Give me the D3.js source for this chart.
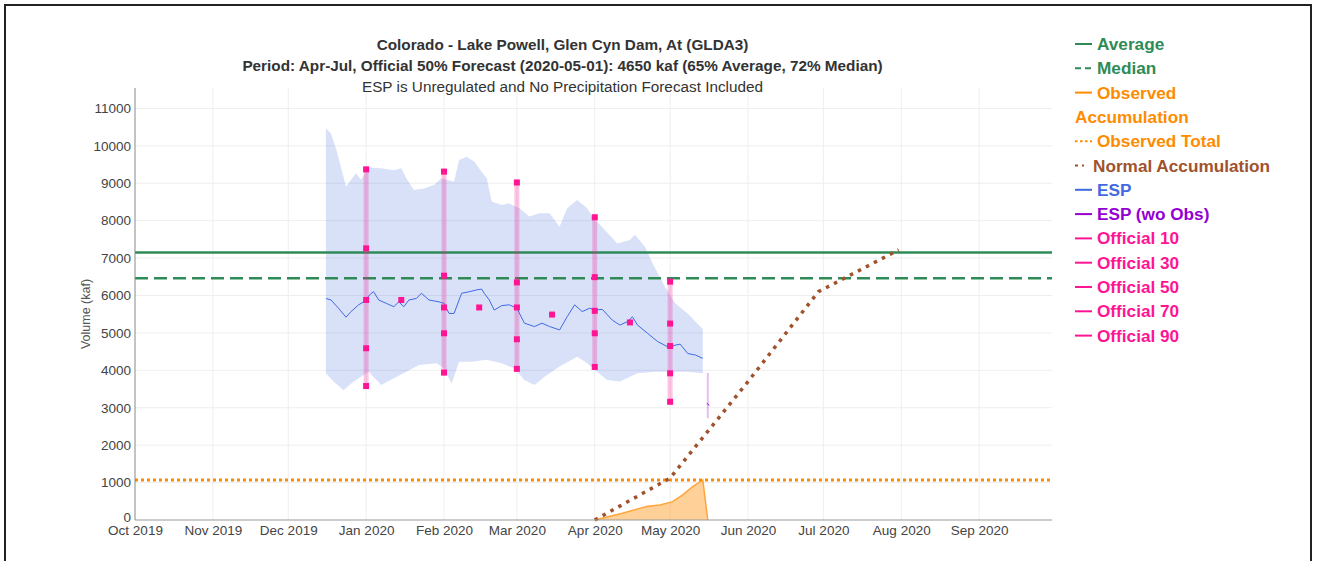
<!DOCTYPE html>
<html><head><meta charset="utf-8">
<script src="https://cdn.jsdelivr.net/npm/d3@7"></script>
<style>body{margin:0;background:#fff;} svg{display:block;font-family:"Liberation Sans",Arial,sans-serif;}</style>
</head><body><svg id="c" width="1317" height="561"></svg>
<script>
// ---------- data ----------
const titleLines = [
  "Colorado - Lake Powell, Glen Cyn Dam, At (GLDA3)",
  "Period: Apr-Jul, Official 50% Forecast (2020-05-01): 4650 kaf (65% Average, 72% Median)",
  "ESP is Unregulated and No Precipitation Forecast Included"
];
const yTicks = [0,1000,2000,3000,4000,5000,6000,7000,8000,9000,10000,11000];
const monthTicks = ["2019-10-01","2019-11-01","2019-12-01","2020-01-01","2020-02-01","2020-03-01",
  "2020-04-01","2020-05-01","2020-06-01","2020-07-01","2020-08-01","2020-09-01"];
const averageValue = 7150;
const medianValue = 6460;
const observedTotal = 1070;

const espUpper = [
  ["2019-12-16",10470],["2019-12-18",10330],["2019-12-20",9930],["2019-12-24",8910],["2019-12-26",9090],
  ["2019-12-28",9270],["2019-12-30",9090],["2020-01-02",9420],["2020-01-07",9400],["2020-01-12",9350],
  ["2020-01-15",9400],["2020-01-17",9130],["2020-01-20",8820],["2020-01-24",8860],["2020-01-28",8950],
  ["2020-01-31",9130],["2020-02-05",9040],["2020-02-07",9620],["2020-02-10",9710],["2020-02-13",9580],
  ["2020-02-16",9310],["2020-02-18",9130],["2020-02-20",8510],["2020-02-24",8420],["2020-02-27",8460],
  ["2020-03-02",8330],["2020-03-06",8110],["2020-03-10",8200],["2020-03-14",8200],["2020-03-18",7840],
  ["2020-03-21",8330],["2020-03-25",8550],["2020-03-29",8330],["2020-03-31",8110],["2020-04-05",7750],
  ["2020-04-10",7390],["2020-04-15",7480],["2020-04-17",7620],["2020-04-21",7300],["2020-04-24",6860],
  ["2020-04-29",6230],["2020-05-03",5790],["2020-05-08",5520],["2020-05-14",5100]
];
const espLower = [
  ["2019-12-16",3920],["2019-12-19",3700],["2019-12-23",3470],["2019-12-27",3700],["2020-01-02",3960],
  ["2020-01-07",3610],["2020-01-12",3790],["2020-01-17",3960],["2020-01-22",4140],["2020-01-29",4190],
  ["2020-02-01",4050],["2020-02-04",3650],["2020-02-07",4230],["2020-02-12",4230],["2020-02-18",4280],
  ["2020-02-24",4190],["2020-02-29",4050],["2020-03-04",3740],["2020-03-08",3610],["2020-03-12",3830],
  ["2020-03-18",4100],["2020-03-25",4360],["2020-03-29",4190],["2020-04-01",4010],["2020-04-06",3740],
  ["2020-04-11",3700],["2020-04-18",3920],["2020-04-25",3960],["2020-05-01",3960],["2020-05-08",3960],
  ["2020-05-14",3920]
];
const espMedian = [
  ["2019-12-16",5920],["2019-12-18",5880],["2019-12-21",5660],["2019-12-24",5420],["2019-12-26",5570],
  ["2019-12-29",5750],["2019-12-31",5830],["2020-01-03",6060],["2020-01-04",6100],["2020-01-06",5880],
  ["2020-01-09",5790],["2020-01-12",5700],["2020-01-14",5830],["2020-01-16",5700],["2020-01-18",5880],
  ["2020-01-21",5920],["2020-01-23",6060],["2020-01-26",5880],["2020-01-30",5830],["2020-02-01",5790],
  ["2020-02-03",5520],["2020-02-05",5520],["2020-02-08",6060],["2020-02-11",6100],["2020-02-14",6150],
  ["2020-02-16",6170],["2020-02-17",6060],["2020-02-19",5880],["2020-02-21",5610],["2020-02-24",5730],
  ["2020-02-27",5750],["2020-03-01",5660],["2020-03-04",5260],["2020-03-08",5170],["2020-03-11",5260],
  ["2020-03-14",5170],["2020-03-18",5080],["2020-03-21",5430],["2020-03-24",5750],["2020-03-27",5570],
  ["2020-03-30",5660],["2020-04-01",5610],["2020-04-04",5630],["2020-04-08",5340],["2020-04-11",5210],
  ["2020-04-14",5300],["2020-04-16",5430],["2020-04-18",5210],["2020-04-22",4990],["2020-04-26",4770],
  ["2020-04-30",4630],["2020-05-05",4700],["2020-05-08",4450],["2020-05-11",4410],["2020-05-14",4320]
];
const espWoObsDate = "2020-05-16";
const espWoObsRange = [2720, 3930];
const espWoObsMedian = 3090;

const officialDates = ["2020-01-01","2020-02-01","2020-03-01","2020-04-01","2020-05-01"];
const official10 = [9370, 9310, 9020, 8090, 6370];
const official30 = [7260, 6530, 6350, 6490, 5250];
const official50 = [5880, 5680, 5680, 5590, 4650];
const official70 = [4590, 4990, 4830, 4990, 3920];
const official90 = [3580, 3940, 4040, 4090, 3160];
const midMonthDates = ["2020-01-15","2020-02-15","2020-03-15","2020-04-15"];
const midMonth50 = [5880, 5680, 5490, 5280];

const observedAccum = [
  ["2020-04-01",0],["2020-04-12",180],["2020-04-22",370],["2020-04-27",400],["2020-05-02",490],
  ["2020-05-06",670],["2020-05-10",890],["2020-05-14",1070],["2020-05-16",0]
];
const normalAccum = [
  ["2020-04-01",0],["2020-05-01",1120],["2020-06-01",3700],["2020-06-29",6100],["2020-07-31",7220]
];

const legendItems = [
  {label:"Average", color:"#2e8b57", dash:null},
  {label:"Median", color:"#2e8b57", dash:"6,4"},
  {label:"Observed", label2:"Accumulation", color:"#ff8c00", dash:null},
  {label:"Observed Total", color:"#ff8c00", dash:"2.5,2.5"},
  {label:"Normal Accumulation", color:"#a0522d", dash:"3,4", short:true},
  {label:"ESP", color:"#4169e1", dash:null},
  {label:"ESP (wo Obs)", color:"#9400d3", dash:null},
  {label:"Official 10", color:"#ff1493", dash:null},
  {label:"Official 30", color:"#ff1493", dash:null},
  {label:"Official 50", color:"#ff1493", dash:null},
  {label:"Official 70", color:"#ff1493", dash:null},
  {label:"Official 90", color:"#ff1493", dash:null}
];

// ---------- chart ----------
const parse = d3.utcParse("%Y-%m-%d");
const svg = d3.select("#c");
const x = d3.scaleUtc().domain([parse("2019-10-01"), parse("2020-09-30")]).range([135, 1052]);
const y = d3.scaleLinear().domain([0, 11545]).range([520, 88]);

// frame
svg.append("rect").attr("x",5).attr("y",5).attr("width",1306).attr("height",640)
  .attr("fill","none").attr("stroke","#222").attr("stroke-width",2);

// gridlines
svg.append("g").selectAll("line").data(yTicks.filter(d=>d>0)).join("line")
  .attr("x1",135).attr("x2",1052).attr("y1",d=>y(d)).attr("y2",d=>y(d))
  .attr("stroke","#eeeeee").attr("stroke-width",1);
svg.append("g").selectAll("line").data(monthTicks.slice(1)).join("line")
  .attr("x1",d=>x(parse(d))).attr("x2",d=>x(parse(d))).attr("y1",88).attr("y2",520)
  .attr("stroke","#eeeeee").attr("stroke-width",1);

// ESP band
const bandData = espUpper.map(d=>({t:parse(d[0]),v:d[1]}));
const lowData = espLower.map(d=>({t:parse(d[0]),v:d[1]}));
const bandPts = bandData.map(d=>[x(d.t),y(d.v)]).concat(lowData.slice().reverse().map(d=>[x(d.t),y(d.v)]));
svg.append("path").attr("d", d3.line()(bandPts)+"Z")
  .attr("fill","rgba(65,105,225,0.2)").attr("stroke","none");

// average / median
svg.append("line").attr("x1",135).attr("x2",1052).attr("y1",y(averageValue)).attr("y2",y(averageValue))
  .attr("stroke","#2e8b57").attr("stroke-width",2.5);
svg.append("line").attr("x1",135).attr("x2",1052).attr("y1",y(medianValue)).attr("y2",y(medianValue))
  .attr("stroke","#2e8b57").attr("stroke-width",2.5).attr("stroke-dasharray","13,6");

// observed accumulation area
const obs = observedAccum.map(d=>({t:parse(d[0]),v:d[1]}));
svg.append("path").datum(obs)
  .attr("d", d3.area().x(d=>x(d.t)).y0(y(0)).y1(d=>y(d.v)))
  .attr("fill","rgba(255,140,0,0.4)").attr("stroke","none");
svg.append("path").datum(obs)
  .attr("d", d3.line().x(d=>x(d.t)).y(d=>y(d.v)))
  .attr("fill","none").attr("stroke","#ffa53a").attr("stroke-width",1.5);

// observed total
svg.append("line").attr("x1",135).attr("x2",1052).attr("y1",y(observedTotal)).attr("y2",y(observedTotal))
  .attr("stroke","#ff8c00").attr("stroke-width",3).attr("stroke-dasharray","3,3");

// official bars
const offs = officialDates.map((d,i)=>({t:parse(d), v:[official10[i],official30[i],official50[i],official70[i],official90[i]]}));
svg.append("g").selectAll("rect").data(offs).join("rect")
  .attr("x",d=>x(d.t)-2.5).attr("width",5)
  .attr("y",d=>y(d.v[0])-3).attr("height",d=>y(d.v[4])-y(d.v[0])+6)
  .attr("fill","rgba(255,20,147,0.25)");

// ESP median line
svg.append("path").datum(espMedian.map(d=>({t:parse(d[0]),v:d[1]})))
  .attr("d", d3.line().x(d=>x(d.t)).y(d=>y(d.v)))
  .attr("fill","none").attr("stroke","#4169e1").attr("stroke-width",1);

// official squares
const sq = [];
offs.forEach(o=>o.v.forEach(v=>sq.push({t:o.t,v})));
midMonthDates.forEach((d,i)=>sq.push({t:parse(d),v:midMonth50[i]}));
svg.append("g").selectAll("rect").data(sq).join("rect")
  .attr("x",d=>x(d.t)-3).attr("y",d=>y(d.v)-3).attr("width",6).attr("height",6)
  .attr("fill","#ff1493");

// ESP wo Obs
const tw = parse(espWoObsDate);
svg.append("line").attr("x1",x(tw)).attr("x2",x(tw)).attr("y1",y(espWoObsRange[1])).attr("y2",y(espWoObsRange[0]))
  .attr("stroke","rgba(148,0,211,0.25)").attr("stroke-width",2);
svg.append("line").attr("x1",x(tw)-1).attr("x2",x(tw)+1.5).attr("y1",y(espWoObsMedian)-1).attr("y2",y(espWoObsMedian)+1)
  .attr("stroke","#9400d3").attr("stroke-width",1);

// normal accumulation
svg.append("path").datum(normalAccum.map(d=>({t:parse(d[0]),v:d[1]})))
  .attr("d", d3.line().x(d=>x(d.t)).y(d=>y(d.v)))
  .attr("fill","none").attr("stroke","#a0522d").attr("stroke-width",3.5).attr("stroke-dasharray","3.5,5.5");

// axes
svg.append("line").attr("x1",135).attr("x2",135).attr("y1",88).attr("y2",520).attr("stroke","#888").attr("stroke-width",1);
svg.append("line").attr("x1",135).attr("x2",1052).attr("y1",520).attr("y2",520).attr("stroke","#999").attr("stroke-width",1);
const yAxis = d3.axisLeft(y).tickValues(yTicks).tickFormat(d3.format("d")).tickSize(0).tickPadding(4);
const ga = svg.append("g").attr("transform","translate(135,0)").call(yAxis);
ga.select(".domain").remove();
ga.selectAll("text").attr("font-size",13.5).attr("fill","#444").attr("font-family","Liberation Sans, Arial, sans-serif");
ga.selectAll(".tick").filter(d=>d===0).select("text").attr("dy","0.1em");
const xAxis = d3.axisBottom(x).tickValues(monthTicks.map(parse)).tickFormat(d3.utcFormat("%b %Y")).tickSize(0).tickPadding(5);
const gx = svg.append("g").attr("transform","translate(0,520)").call(xAxis);
gx.select(".domain").remove();
gx.selectAll("text").attr("font-size",13.5).attr("fill","#444").attr("font-family","Liberation Sans, Arial, sans-serif");

svg.append("text").attr("transform","translate(90,314) rotate(-90)").attr("text-anchor","middle")
  .attr("font-size",12.5).attr("fill","#555").text("Volume (kaf)");

// title
const tY = [49.5, 70.5, 91.5];
titleLines.forEach((t,i)=>{
  svg.append("text").attr("x",562.5).attr("y",tY[i]).attr("text-anchor","middle")
    .attr("font-size",15.3).attr("font-weight",i<2?"bold":"normal").attr("fill","#333").text(t);
});

// legend
let ly = 44;
legendItems.forEach(it=>{
  const g = svg.append("g");
  const x2 = it.short ? 1084 : 1092;
  g.append("line").attr("x1",1075).attr("x2",x2).attr("y1",ly).attr("y2",ly)
    .attr("stroke",it.color).attr("stroke-width",2).attr("stroke-dasharray",it.dash);
  g.append("text").attr("x",it.short?1093:1097).attr("y",ly+6).attr("font-size",17.2).attr("font-weight","bold")
    .attr("fill",it.color).text(it.label);
  ly += 24.3;
  if(it.label2){
    g.append("text").attr("x",1075).attr("y",ly+6).attr("font-size",17.2).attr("font-weight","bold")
      .attr("fill",it.color).text(it.label2);
    ly += 24.3;
  }
});
</script></body></html>
